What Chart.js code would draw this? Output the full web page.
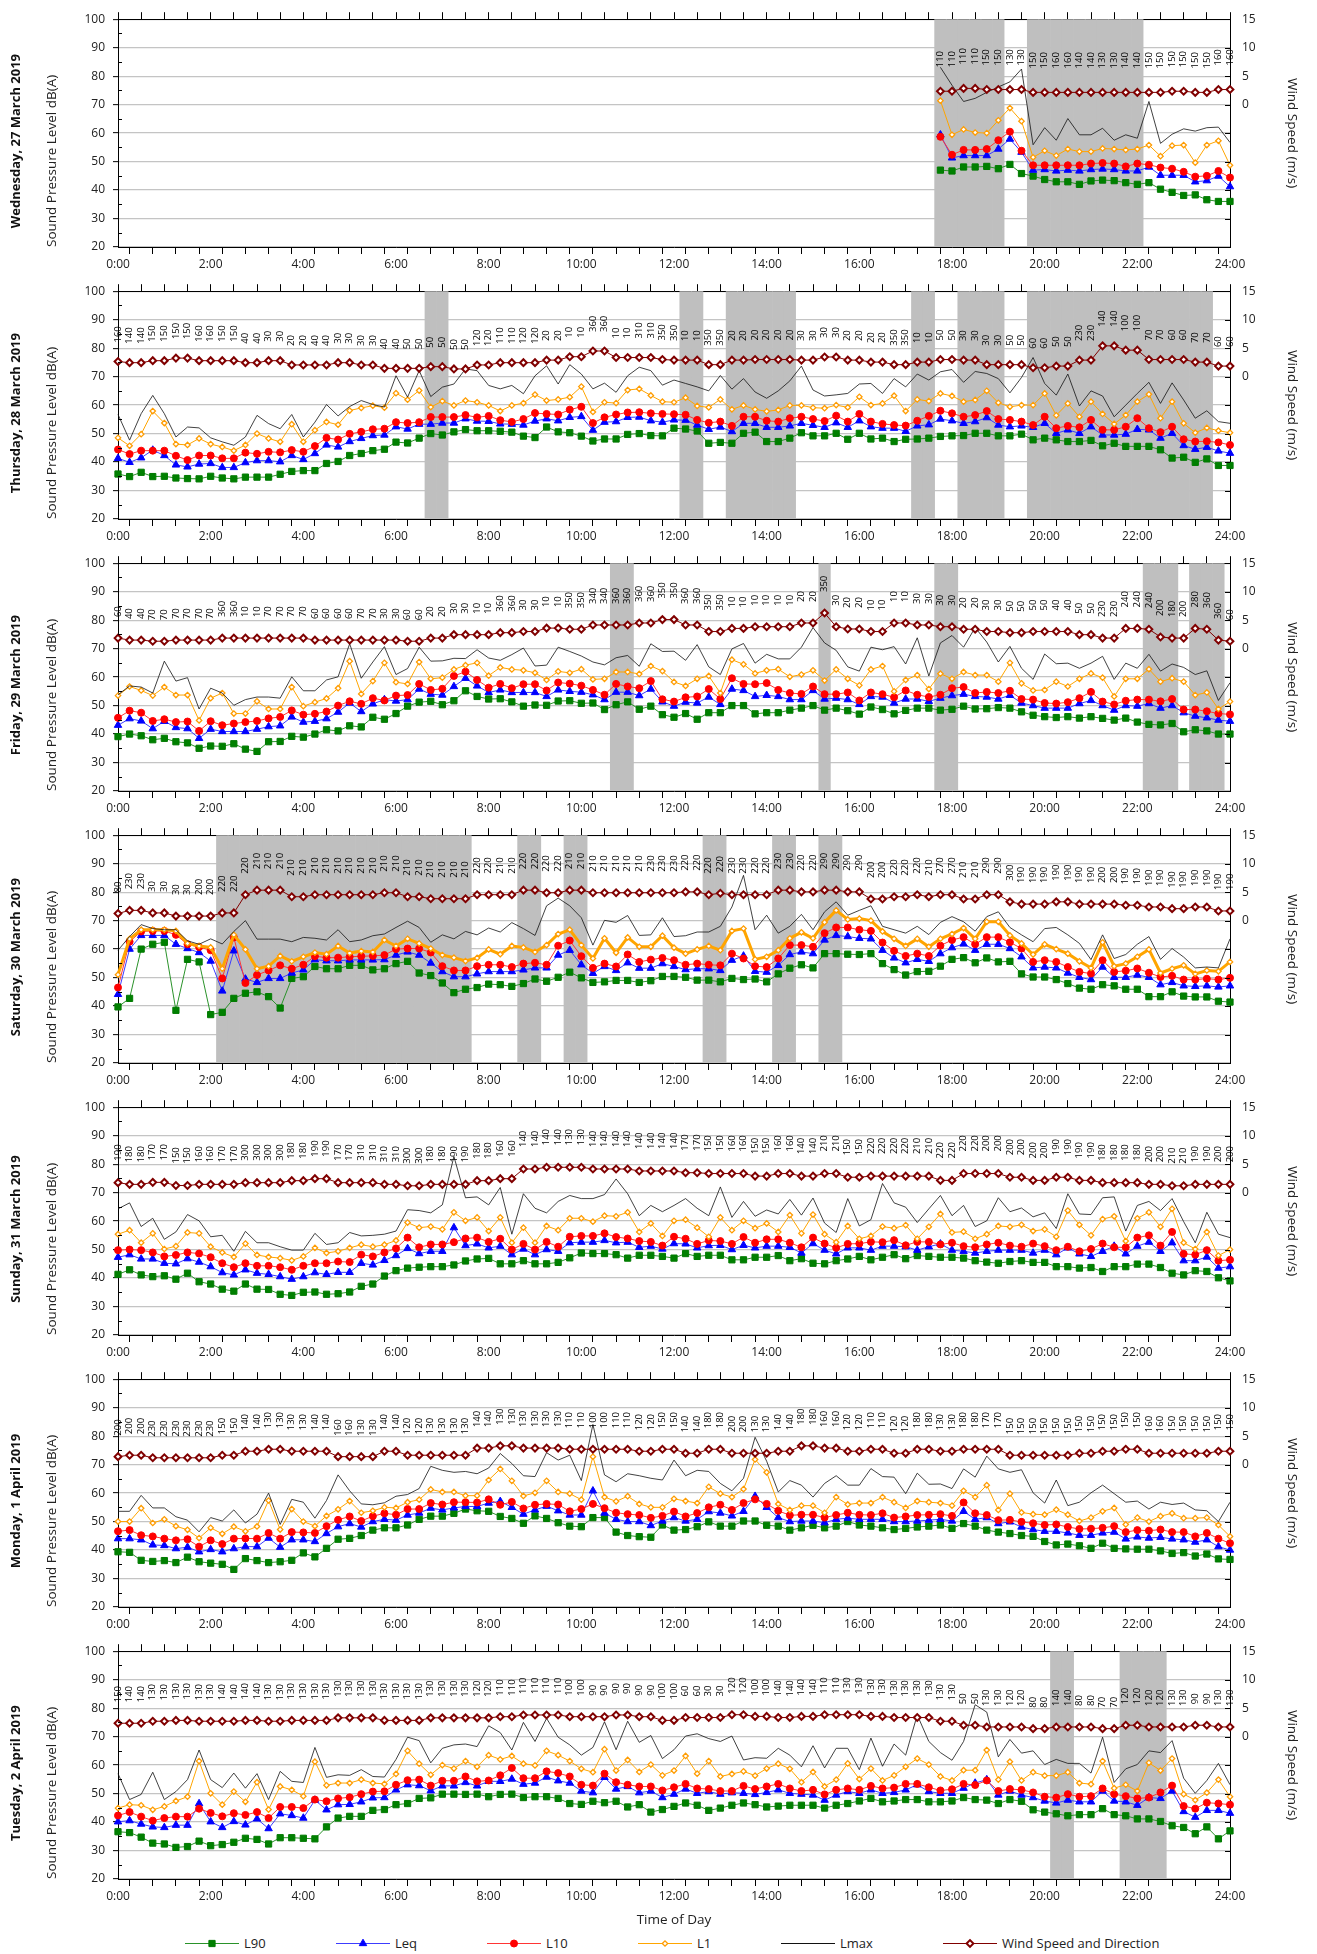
<!DOCTYPE html>
<html lang="en">
<head>
<meta charset="utf-8">
<title>Noise and wind monitoring, 27 March - 2 April 2019</title>
<script src="https://cdn.jsdelivr.net/npm/chart.js@4.4.1/dist/chart.umd.min.js"></script>
<style>
  html, body { margin: 0; padding: 0; background: #fff; }
  #page { position: relative; width: 1317px; height: 1954px; overflow: hidden; font-family: "Open Sans", "DejaVu Sans", sans-serif; }
  .panel { position: absolute; left: 0; }
  #legend { position: absolute; left: 0; top: 1932px; width: 1317px; height: 22px; }
  .legend-item { position: absolute; top: 0; height: 22px; display: flex; align-items: center; font-size: 13px; color: #222; white-space: nowrap; }
  .legend-item canvas { margin-right: 5px; }
</style>
</head>
<body>
<div id="page"><div id="legend"></div></div>
<script>
const FONT = '"Open Sans", "DejaVu Sans", sans-serif'
const blank = n => Array(n).fill(null)

// time of day in minutes, one reading every 15 minutes
const minutes = [
  0, 15, 30, 45, 60, 75, 90, 105, 120, 135, 150, 165, 180, 195, 210, 225, 240, 255, 270, 285,
  300, 315, 330, 345, 360, 375, 390, 405, 420, 435, 450, 465, 480, 495, 510, 525, 540, 555, 570, 585,
  600, 615, 630, 645, 660, 675, 690, 705, 720, 735, 750, 765, 780, 795, 810, 825, 840, 855, 870, 885,
  900, 915, 930, 945, 960, 975, 990, 1005, 1020, 1035, 1050, 1065, 1080, 1095, 1110, 1125, 1140, 1155, 1170, 1185,
  1200, 1215, 1230, 1245, 1260, 1275, 1290, 1305, 1320, 1335, 1350, 1365, 1380, 1395, 1410, 1425, 1440
]

// Wednesday 27 March 2019 (logger starts at 17:45)
const wedL90 = [...blank(71), 47, 46.7, 48.1, 48.1, 48.3, 47.5, 49, 45.8, 44.9, 43.7, 42.9, 42.9, 42, 43.2, 43.5, 43.3, 42.6, 42, 42.6, 40.3, 39.2, 38.1, 38.3, 36.6, 36, 36]
const wedLeq = [...blank(71), 59.4, 51.3, 52.1, 52.1, 52.1, 54.4, 57.9, 53.3, 47, 47.2, 46.7, 47, 46.7, 47.2, 47.4, 47.2, 46.7, 46.7, 48.1, 45.2, 45.2, 45.2, 42.9, 43.3, 44.9, 41.2]
const wedL10 = [...blank(71), 58.7, 52.4, 54.1, 54.1, 54.4, 57.5, 60.5, 53.8, 48.7, 48.7, 48.7, 48.7, 48.7, 49.3, 49.5, 49.3, 48.3, 49.3, 48.9, 47.9, 47.5, 46.4, 44.7, 45, 46.7, 44.4]
const wedL1 = [...blank(71), 71.4, 59.4, 61.3, 60.2, 60, 64.5, 68.8, 64.2, 51.5, 53.8, 52.1, 54.4, 53.5, 53.5, 54.6, 54.4, 54.1, 54.4, 55.8, 51.9, 55.6, 55.8, 49.6, 55.8, 57.3, 48.7]
const wedLmax = [...blank(71), 83.1, 76.8, 71.1, 72.2, 74.3, 76.2, 78, 82.5, 55.9, 61.9, 57.5, 65.1, 59.4, 59.4, 61.7, 57.5, 59.4, 58.2, 71.1, 56.4, 59.6, 61.5, 60.7, 61.9, 62.1, 56.7]
const wedWind = [...blank(71), 2.35, 2.35, 2.85, 2.85, 2.65, 2.65, 2.65, 2.65, 2.15, 2.15, 2.15, 2.15, 2.15, 2.15, 2.15, 2.15, 2.15, 2.15, 2.15, 2.15, 2.35, 2.35, 2.15, 2.15, 2.65, 2.65]
const wedDir = [...blank(71), 110, 110, 110, 110, 150, 150, 130, 130, 150, 150, 160, 160, 140, 140, 130, 130, 140, 140, 150, 150, 150, 150, 150, 150, 160, 160]
const wedRain = [1065, 1080, 1095, 1110, 1125, 1140, 1185, 1200, 1215, 1230, 1245, 1260, 1275, 1290, 1305, 1320]

// Thursday 28 March 2019
const thuL90 = [
  35.8, 34.9, 36.4, 34.9, 35, 34.4, 34.2, 34.1, 35, 34.4, 34.1, 34.7, 34.7, 34.7, 35.7, 36.7,
  37, 37, 39.5, 40.2, 42.3, 43, 44, 44.5, 47, 46.7, 48.4, 50, 49.5, 50.6, 51.4, 51,
  51, 50.8, 50.5, 49.1, 48.6, 52.3, 50.6, 50.3, 49.1, 47.4, 48.1, 48.1, 49.7, 50, 49.3, 49.2,
  51.9, 51.6, 50.9, 46.6, 46.9, 46.6, 50.1, 50.5, 47.2, 47.2, 48.4, 50.3, 49.2, 49.2, 50.1, 48,
  50.1, 48.1, 48.4, 47.2, 48, 48.1, 48.4, 49, 49.2, 49.3, 50.1, 50.1, 49.2, 49.2, 49.8, 47.8,
  48.4, 47.8, 47.2, 47.2, 47.6, 45.7, 46.6, 45.5, 45.5, 45.5, 44.3, 41.4, 41.7, 39.9, 41.1, 38.8, 38.8
]
const thuLeq = [
  41.3, 39.9, 41.5, 44.2, 42.3, 39, 38.3, 39.3, 39.5, 38.1, 38.1, 39.8, 40.5, 40.5, 40.1, 42.3,
  40.9, 43, 46, 45.3, 47.2, 48.3, 49.3, 49.5, 52.4, 51.6, 53.3, 53.3, 53.7, 53.7, 55.2, 54.4,
  54.3, 53.4, 53.3, 53, 54.4, 55.2, 54.5, 55.7, 56, 51.2, 54, 54.2, 55.7, 55.8, 54.5, 54,
  54.8, 54.7, 53, 51.5, 52.3, 50.7, 53.6, 53.6, 52.2, 52.2, 52.7, 53.6, 52.9, 52.2, 53.8, 52.2,
  54.5, 52.4, 51.9, 51.9, 50.8, 52.7, 53.1, 55.1, 54.5, 53.6, 54.2, 55.6, 53, 52.4, 52.7, 52.2,
  53.6, 50.1, 51.3, 50.1, 52.4, 49.5, 49.5, 49.8, 51.5, 51.3, 48.4, 50.1, 45.8, 44.5, 45.2, 43.9, 43.1
]
const thuL10 = [
  44.4, 42.8, 44, 44, 44, 42.2, 40.7, 42.3, 42.3, 41.3, 41.3, 43.3, 42.9, 43.6, 43.4, 44.2,
  43.6, 45.6, 48.5, 47.9, 49.9, 50.6, 51.5, 51.7, 54, 53.7, 54, 55.8, 55.8, 55.8, 56.5, 55.7,
  56.2, 54.7, 54.1, 55.1, 57.2, 56.9, 56.7, 58.4, 59.4, 53.7, 55.7, 56.7, 57.4, 57.5, 57.1, 56.9,
  56.8, 56.6, 54.8, 53.8, 54.2, 52.7, 55.9, 55.9, 54.5, 54.2, 55.4, 55.9, 55.1, 54.4, 56.3, 54.2,
  56.9, 54.2, 53.4, 53, 52.8, 54.5, 56.2, 58, 57.1, 55.9, 56.5, 57.9, 55.1, 54.8, 54.2, 53,
  55.9, 51.9, 52.7, 52.2, 54.8, 51.3, 51.3, 52.4, 55.4, 51.9, 50.5, 52.4, 48, 47.2, 47.3, 46.9, 46
]
const thuL1 = [
  48.5, 45.7, 49.8, 57.9, 53.7, 46.3, 46, 48.3, 46.3, 45.3, 44, 46, 50, 48.3, 47.1, 53.3,
  47.1, 51.2, 54.1, 53.1, 58.1, 59, 59.8, 59.1, 64.2, 61.9, 65.1, 59.3, 61.4, 59.9, 61.6, 61,
  59.9, 57.9, 59.9, 60.7, 63.7, 61.6, 62, 62.8, 66.5, 57.6, 61, 60.7, 65.3, 65.7, 63.4, 61.2,
  61, 62.6, 59.7, 59.2, 62, 58.5, 59.9, 58.5, 57.8, 58.3, 59.9, 59.9, 59.1, 58.9, 60, 59.2,
  62.9, 60, 60.6, 63.3, 57.9, 62, 61.4, 64.1, 63.2, 61.2, 61.8, 65, 60.8, 59.4, 60, 60,
  64.1, 56.4, 60.6, 55.9, 61.2, 56.9, 53.4, 56.5, 61.2, 63.8, 55.4, 61.2, 53.6, 50.3, 52, 51, 50.3
]
const thuLmax = [
  56.7, 47.7, 57, 63.4, 57, 48.8, 52.3, 52, 48.5, 47.1, 45.9, 48.8, 56.4, 53.5, 51.7, 56.7,
  48.8, 54, 60.2, 56.2, 59.5, 61.6, 60.2, 59.3, 70.3, 62.8, 72.1, 63, 66.3, 67.4, 72.7, 72.1,
  66.9, 65.7, 66.9, 64, 70.3, 73.8, 67.4, 74.2, 70.9, 65.7, 67.7, 64.5, 70.3, 73.3, 72.1, 67,
  68.8, 67.6, 66.4, 65, 70.4, 65.6, 69.3, 64.6, 62.4, 65, 68.5, 73.7, 65.3, 63.2, 63.6, 64.1,
  67.4, 67.6, 64.1, 69.3, 66.4, 70.9, 68.8, 71.7, 72.5, 68, 71.8, 71.1, 69.3, 64.3, 69.7, 76.7,
  67.6, 63.5, 70.9, 59.7, 65, 63.2, 55.9, 60, 64.1, 68, 60.6, 67.8, 61.8, 55.4, 58, 54.2, 53.6
]
const thuWind = [
  2.65, 2.45, 2.45, 2.8, 2.8, 3.25, 3.25, 2.8, 2.8, 2.8, 2.8, 2.45, 2.45, 2.8, 2.8, 2.05,
  2.05, 2.05, 2.05, 2.45, 2.45, 2.05, 2.05, 1.45, 1.45, 1.45, 1.45, 1.75, 1.75, 1.35, 1.35, 2.05,
  2.05, 2.45, 2.45, 2.45, 2.45, 2.9, 2.9, 3.5, 3.5, 4.5, 4.5, 3.35, 3.35, 3.35, 3.35, 3,
  2.9, 2.9, 2.9, 2.1, 2.1, 2.9, 2.9, 3, 3, 3, 3, 2.9, 2.9, 3.45, 3.45, 2.9,
  2.9, 2.55, 2.55, 2.1, 2.1, 2.55, 2.55, 3, 3, 2.9, 2.9, 2.1, 2.1, 2.1, 2.1, 1.55,
  1.55, 1.85, 1.85, 2.9, 2.9, 5.4, 5.4, 4.65, 4.65, 3, 3, 3, 3, 2.55, 2.55, 1.85, 1.85
]
const thuDir = [
  160, 140, 140, 150, 150, 150, 150, 160, 160, 150, 150, 40, 40, 30, 30, 20,
  20, 40, 40, 30, 30, 30, 30, 40, 40, 50, 50, 50, 50, 50, 50, 120,
  120, 110, 110, 120, 120, 20, 20, 10, 10, 360, 360, 10, 10, 310, 310, 350,
  350, 10, 10, 350, 350, 20, 20, 20, 20, 20, 20, 30, 30, 30, 30, 20,
  20, 20, 20, 350, 350, 10, 10, 50, 50, 30, 30, 30, 30, 50, 50, 60,
  60, 50, 50, 230, 230, 140, 140, 100, 100, 70, 70, 60, 60, 70, 70, 60, 60
]
const thuRain = [405, 420, 735, 750, 795, 810, 825, 840, 855, 870, 1035, 1050, 1095, 1110, 1125, 1140,
  1185, 1200, 1215, 1230, 1245, 1260, 1275, 1290, 1305, 1320, 1335, 1350, 1365, 1380, 1395, 1410]

// Friday 29 March 2019
const friL90 = [
  39.1, 40, 39.4, 38, 38.5, 37.3, 36.9, 35, 35.8, 35.7, 36.6, 34.7, 33.9, 37.3, 37.4, 39.2,
  38.9, 40, 41.5, 41.1, 42.9, 42.5, 45.9, 45.2, 47.2, 49.8, 51.2, 51.5, 50.3, 51.7, 55.2, 53.2,
  52.3, 52.4, 51.3, 49.8, 50.2, 50.1, 51.6, 51.7, 50.8, 50.9, 48.6, 50.3, 51.3, 48.7, 49.8, 46.8,
  45.9, 47.2, 45.2, 47.5, 47.5, 50, 50, 47.1, 47.5, 47.5, 48.4, 49.1, 50, 48.4, 49.1, 48.2,
  47, 49.5, 48.6, 47.1, 48.3, 49.1, 49.1, 48.4, 48.7, 49.8, 48.8, 48.9, 49.3, 49.1, 47.8, 46.6,
  46.1, 45.8, 46.1, 45.6, 46.1, 45.5, 44.9, 45.6, 44.2, 43.4, 43.2, 43.7, 40.8, 41.5, 41.1, 40, 40
]
const friLeq = [
  43.1, 45.4, 44.6, 41.9, 44.5, 42.3, 41.9, 38.5, 41.7, 40.9, 40.9, 40.9, 41.7, 42.6, 42.9, 46,
  44.2, 44.5, 45.4, 47.7, 50.9, 47.9, 50.6, 52.1, 51.6, 52.1, 55.8, 54, 53.7, 56.7, 59.6, 56.9,
  54.6, 55.5, 54.6, 54.6, 54.6, 53.2, 55.5, 55, 54.7, 53.8, 52.1, 54.7, 54.7, 53.5, 55.8, 51.3,
  49.8, 51.2, 50.9, 53, 50.4, 55.8, 55.3, 53.2, 53.6, 53.2, 52.1, 52.1, 55.3, 52.3, 52.6, 52.1,
  50.4, 53.2, 53, 50.9, 52.3, 52.3, 51.5, 52.6, 53.5, 54, 53.2, 53, 52.3, 53.6, 50.9, 50,
  49.1, 49.1, 49.1, 50.7, 51.8, 50, 48.4, 50, 49.8, 50.7, 49.1, 50, 47.5, 46.3, 45.7, 44.9, 44.5
]
const friL10 = [
  45.7, 48.2, 47.5, 44.6, 45.2, 44.2, 44.4, 41.1, 44.5, 43.1, 43.7, 44.2, 44.6, 45.5, 46, 48.3,
  46.8, 47.1, 47.9, 50, 51.5, 50.6, 52.6, 51.8, 53.5, 53.7, 57.6, 55.5, 55.9, 60.4, 61.9, 59,
  56.3, 57.6, 56.1, 57.5, 57.5, 55.3, 58.1, 57.7, 57, 55.5, 53.8, 57.6, 56.7, 56.1, 58.6, 52.2,
  51.4, 52.9, 53.2, 55.8, 52.3, 59.6, 57.6, 57.5, 57.9, 55.5, 54.4, 54.1, 56.7, 54, 54, 54.6,
  51.8, 54.6, 54, 52.9, 55.3, 53.8, 53, 53.8, 56.1, 56.5, 54.4, 54.8, 54.4, 55.2, 52.3, 52.1,
  50.9, 50.7, 51.2, 52.6, 54.8, 51.4, 50.4, 51.7, 52.1, 52.1, 51.5, 52.3, 48.6, 48.6, 48, 47.2, 46.9
]
const friL1 = [
  53.5, 56.7, 55.3, 53.5, 56.5, 53.7, 53.7, 44.8, 52.6, 54.4, 47.2, 47.2, 51.5, 48.8, 48.8, 56.5,
  49.8, 51.2, 52.5, 56.1, 65.6, 54.1, 58.6, 65, 58.2, 57.6, 65.3, 59.4, 59.8, 62.7, 64.2, 65,
  60.5, 63.4, 62.7, 62.4, 61.5, 59, 62, 61.5, 62.8, 59.2, 59.4, 61.8, 61.8, 61.1, 63.9, 62.1,
  58.3, 56.9, 59.4, 60.4, 54.4, 66.1, 64.5, 61.3, 62.4, 62.8, 60.1, 60.9, 62.4, 58.8, 62.7, 59.4,
  57.1, 62.7, 63.9, 55, 59, 60.7, 55.8, 61.2, 59.4, 61.8, 60.7, 60.7, 58.4, 65, 57.8, 55.3,
  55.5, 58.4, 56.7, 59.4, 61.3, 59.8, 53.2, 59.4, 59.4, 62.8, 58.4, 59.6, 58.4, 53.7, 54.6, 48.8, 51.4
]
const friLmax = [
  53.8, 56.9, 56.5, 54.4, 65.6, 58.6, 59.8, 48.8, 56.1, 54.4, 50.1, 52.1, 53, 53, 52.6, 60.1,
  55.2, 55.2, 59, 60.1, 71.7, 59.6, 65.3, 70.7, 60.9, 63, 70.5, 65.6, 65.7, 66.6, 66.5, 69.6,
  66.7, 65.9, 67.9, 70.2, 63.9, 64.2, 70.5, 69, 67.4, 65.3, 64.3, 66.8, 67.6, 63.8, 71.7, 69,
  69.1, 65.9, 71.4, 63.6, 60.9, 69.9, 71.8, 64.9, 68, 66.4, 66.4, 70.5, 77.4, 72, 69.4, 63.6,
  62.1, 70.5, 69.6, 70.7, 64.6, 73.8, 60.4, 72, 74.6, 70.5, 77.4, 72.3, 65.3, 70.8, 63.1, 59.2,
  68.1, 64.7, 64.9, 63.1, 64.9, 67.3, 59.2, 64.9, 63.1, 68, 62.1, 64.6, 63.4, 60.9, 62.2, 51.8, 58
]
const friWind = [
  1.85, 1.5, 1.5, 1.3, 1.3, 1.5, 1.5, 1.5, 1.5, 1.85, 1.85, 1.85, 1.85, 1.85, 1.85, 1.85,
  1.85, 1.5, 1.5, 1.5, 1.5, 1.5, 1.5, 1.5, 1.5, 1.3, 1.3, 1.85, 1.85, 2.45, 2.45, 2.45,
  2.45, 2.8, 2.8, 3, 3, 3.6, 3.6, 3.4, 3.4, 4.15, 4.15, 4.15, 4.15, 4.5, 4.5, 5.1,
  5.1, 4.15, 4.15, 3, 3, 3.55, 3.55, 3.85, 3.85, 3.85, 3.85, 4.5, 4.5, 6.25, 3.85, 3.45,
  3.45, 3, 3, 4.5, 4.5, 4.15, 4.15, 3.85, 3.85, 3.4, 3.4, 3, 3, 2.8, 2.8, 3,
  3, 3, 3, 2.45, 2.45, 1.85, 1.85, 3.55, 3.55, 3.4, 2.05, 1.85, 1.85, 3.55, 3.4, 1.5, 1.3
]
const friDir = [
  60, 40, 40, 70, 70, 70, 70, 70, 70, 360, 360, 10, 10, 70, 70, 70,
  70, 60, 60, 60, 60, 70, 70, 30, 30, 60, 60, 20, 20, 30, 30, 10,
  10, 360, 360, 30, 30, 10, 10, 350, 350, 340, 340, 360, 360, 360, 360, 350,
  350, 360, 360, 350, 350, 10, 10, 10, 10, 10, 10, 20, 20, 350, 30, 20,
  20, 10, 10, 10, 10, 30, 30, 30, 30, 20, 20, 30, 30, 50, 50, 50,
  50, 40, 40, 50, 50, 230, 230, 240, 240, 240, 200, 180, 200, 280, 360, 360, 60
]
const friRain = [645, 660, 915, 1065, 1080, 1335, 1350, 1365, 1395, 1410, 1425]

// Saturday 30 March 2019
const satL90 = [
  39.7, 42.7, 60, 61.7, 62.4, 38.5, 56.4, 55.5, 37, 37.8, 42.7, 44.5, 45, 43.3, 39.3, 49.7,
  50.3, 53.9, 53.1, 53.1, 54.3, 54.3, 52.7, 53.1, 54.9, 55.7, 51.6, 50.7, 48.1, 44.7, 45.9, 46.5,
  47.7, 47.5, 46.9, 47.9, 49.5, 48.7, 50.1, 51.9, 49.9, 48.3, 48.5, 49, 49, 48.3, 48.9, 50.4,
  50.4, 50.1, 49.1, 49.1, 48.5, 49.7, 49.3, 49.5, 48.5, 51.3, 53.3, 54.5, 53.4, 58.4, 58.4, 58.2,
  58.1, 58.4, 54.9, 52.8, 50.9, 52.1, 52.2, 54, 56.4, 57, 55.2, 56.9, 55.5, 55.7, 51.3, 50.2,
  50.2, 49.3, 47.9, 46.3, 45.9, 47.5, 47.1, 45.9, 45.9, 43.3, 43.3, 45, 43.5, 43.2, 43.2, 41.7, 41.4
]
const satLeq = [
  44.1, 60, 64.8, 64.8, 64.8, 61.7, 60.2, 58.8, 55.8, 45.3, 59.4, 49.5, 48.3, 49.7, 49.7, 51.6,
  52.7, 56.3, 55.9, 55.9, 56.2, 56.2, 56.2, 56.3, 57.9, 59, 57.9, 55.1, 52.1, 50.3, 50.3, 51.3,
  52.1, 52.1, 52.1, 52.7, 53.4, 53.4, 57.9, 59.6, 54.5, 51.5, 53.9, 52.5, 55.2, 53.3, 53.3, 54.9,
  53.9, 52.8, 53.1, 53.1, 52.5, 56.1, 57.6, 52.2, 51.9, 54.3, 58.1, 59, 58.4, 63.2, 64.8, 64.4,
  63.8, 63.6, 59.6, 56.9, 55.2, 56.4, 55.7, 58.4, 60.5, 61.8, 59.6, 61.7, 61.7, 60.2, 57.3, 53.4,
  53.7, 53.4, 51.6, 50.1, 49.3, 53.7, 50.1, 50.1, 50.9, 50.1, 47.5, 48.3, 47.1, 46.9, 47.1, 46.7, 47.1
]
const satL10 = [
  46.5, 62.6, 66.2, 66.4, 66.4, 65, 61.7, 60.7, 59.6, 49.7, 64.1, 48.1, 50.9, 52.5, 54.3, 53.1,
  54.5, 57.5, 57, 57, 57.3, 57.5, 57.6, 57.9, 60, 60.2, 60.2, 58.8, 54, 52.5, 52.5, 54,
  54.5, 54.5, 53.7, 54.9, 55.2, 54.5, 61.2, 63, 57.5, 53.4, 54.9, 53.9, 58.1, 55.5, 56.3, 56.9,
  56.1, 54.5, 54.9, 54.5, 54.3, 58.4, 56.7, 54, 53.7, 56.7, 61.4, 61.4, 60.8, 65.6, 67.6, 67.6,
  66.8, 66.4, 62.3, 59.4, 57.6, 58.4, 57.6, 61.2, 63.2, 64.2, 61.7, 64.2, 64.2, 62.4, 60.2, 55.5,
  56.1, 55.5, 53.7, 52, 51.4, 56.1, 52, 52.4, 53.2, 51.7, 50.2, 50.6, 49.3, 49.3, 49.6, 49.3, 49.9
]
const satL1 = [
  51, 63.6, 66.8, 66.8, 66.8, 66.4, 62, 61.1, 60.6, 53.1, 65, 59.9, 53.1, 54, 57.6, 55.7,
  57.3, 58.8, 58.2, 61.1, 58.6, 59.3, 59, 63.2, 61.1, 63.6, 62, 60.2, 57.9, 57, 55.8, 56.9,
  59.9, 58.2, 61.1, 60.6, 59, 61.4, 65.3, 66.8, 61.4, 56.7, 63.8, 58.7, 64.1, 60.8, 60.8, 64.7,
  60.5, 58.4, 59.9, 61.1, 59.6, 66.4, 67.2, 56.4, 57.3, 59.6, 63.8, 65.9, 63.8, 69.4, 73.6, 70.4,
  70.7, 70, 66.2, 63.6, 61.1, 63.6, 60.8, 63.6, 65.3, 67.4, 63.6, 69.6, 69.6, 64.8, 62, 58.1,
  61.7, 60, 58.4, 55.7, 53.4, 62.4, 54, 54.9, 57.3, 59.9, 51.6, 53.1, 54.3, 51.3, 52.5, 52.2, 55.5
]
const satLmax = [
  59.6, 64.4, 68.6, 67.2, 66.8, 66.8, 62.9, 61.7, 63.6, 61.8, 66.2, 70, 63.5, 63.5, 63.5, 62.6,
  64.1, 63.8, 63.2, 66.8, 62.6, 63.2, 64.7, 65.3, 67.6, 69.8, 67.6, 62.4, 65, 63.6, 66.2, 65,
  67.4, 66, 69.3, 67.2, 64.8, 75.2, 77.9, 75.2, 71, 61.4, 70.1, 69.4, 71.8, 64.8, 65, 71,
  64.4, 64.7, 66, 66, 68, 74.8, 85.9, 66.8, 71.9, 65.6, 68, 72.2, 66.8, 73.1, 76.6, 71.9,
  73.6, 75.2, 68, 66.8, 65.6, 68, 65.1, 69.4, 71.4, 69.6, 66.3, 71.4, 73.1, 67.6, 65, 62.6,
  67.2, 67.6, 65, 62, 56.3, 65, 56.7, 58.1, 61.7, 64.4, 56.4, 60.2, 57.2, 53.4, 53.7, 53.4, 63.6
]
const satWind = [
  1.25, 1.8, 1.8, 1.35, 1.35, 0.8, 0.8, 0.8, 0.8, 1.35, 1.35, 4.55, 5.35, 5.35, 5.35, 4.2,
  4.2, 4.55, 4.55, 4.55, 4.55, 4.55, 4.55, 4.9, 4.9, 4.2, 4.2, 3.85, 3.85, 3.85, 3.85, 4.55,
  4.55, 4.55, 4.55, 5.35, 5.35, 4.9, 4.9, 5.35, 5.35, 4.9, 4.9, 4.9, 4.9, 4.9, 4.9, 4.9,
  4.9, 5.05, 5.05, 4.55, 4.8, 4.55, 4.55, 4.55, 4.55, 5.35, 5.35, 5.05, 5.05, 5.35, 5.35, 5.05,
  5.05, 3.8, 3.8, 4.2, 4.2, 4.55, 4.2, 4.55, 4.55, 3.8, 3.8, 4.55, 4.55, 3.3, 2.9, 2.9,
  2.9, 3.3, 3.3, 2.9, 2.9, 2.9, 2.9, 2.7, 2.7, 2.4, 2.4, 2.1, 2.1, 2.4, 2.4, 1.7, 1.7
]
const satDir = [
  80, 230, 230, 30, 30, 30, 30, 200, 200, 220, 220, 220, 210, 210, 210, 210,
  210, 210, 210, 210, 210, 210, 210, 210, 210, 210, 210, 210, 210, 210, 210, 220,
  220, 210, 210, 220, 220, 220, 220, 210, 210, 210, 210, 210, 210, 210, 230, 230,
  230, 220, 220, 220, 220, 230, 230, 220, 220, 230, 230, 220, 220, 290, 290, 290,
  290, 200, 200, 220, 220, 220, 210, 270, 270, 210, 210, 290, 290, 300, 190, 190,
  190, 190, 190, 190, 190, 200, 200, 190, 190, 190, 190, 190, 190, 190, 190, 190, 190
]
const satRain = [135, 150, 165, 180, 195, 210, 225, 240, 255, 270, 285, 300, 315, 330, 345, 360, 375, 390,
  405, 420, 435, 450, 525, 540, 585, 600, 765, 780, 855, 870, 915, 930]

// Sunday 31 March 2019
const sunL90 = [
  41.3, 42.9, 41.1, 40.5, 40.8, 39.6, 41.7, 38.7, 37.9, 36.1, 35.4, 37.9, 36.1, 36, 34.3, 33.9,
  35, 35.1, 34.3, 34.5, 35.1, 37.1, 37.9, 40.7, 42.6, 43.5, 43.8, 44, 44, 44.6, 46, 46.7,
  46.9, 45, 45, 46.1, 45, 45, 45.5, 47.1, 48.8, 48.6, 48.6, 48.2, 47, 48, 48, 47.6,
  47, 48.6, 47.6, 48, 48, 46.4, 46.4, 47.3, 47.3, 47.9, 46.1, 46.8, 45.2, 45, 46.1, 46.7,
  47.6, 46.4, 47.3, 48.2, 46.8, 47.9, 47.6, 47.3, 47.3, 47, 46.1, 45.6, 45.2, 45.8, 46.1, 45.5,
  45.5, 44, 44, 43.5, 43.7, 42.3, 44, 44, 44.9, 44.9, 43.7, 41.7, 41.1, 42.6, 42.3, 40.1, 39
]
const sunLeq = [
  47.3, 48.2, 46.7, 46.7, 45.2, 45, 46.8, 45.6, 44, 41.9, 41.1, 42.9, 41.7, 41.3, 40.5, 39.6,
  40.5, 41.9, 41.3, 42, 42, 45.2, 44.6, 46.2, 47.9, 50.4, 48.6, 49.4, 49.4, 57.7, 51.4, 52,
  50.6, 51.2, 48.2, 50.2, 48.2, 50, 49.4, 52.4, 52.6, 52.6, 53.2, 52.4, 52.6, 50.8, 51.2, 50.2,
  52.1, 52, 50.6, 51.4, 51.5, 50, 51.5, 50.6, 51.2, 51.2, 50.8, 48.8, 52.1, 49.8, 48.5, 50.6,
  50.6, 49.8, 51.2, 51.2, 51, 49.8, 51, 52, 49.8, 49.4, 48.8, 49.4, 49.8, 49.8, 49.8, 48.8,
  49.8, 48.2, 50.6, 48.5, 47.6, 49.4, 51.2, 48.5, 51.2, 52.6, 49.4, 52.4, 46.1, 46.1, 47.4, 43.5, 44
]
const sunL10 = [
  49.8, 50, 49.8, 49, 47.6, 48.1, 49, 48.6, 47.3, 45.2, 43.8, 45.2, 44.3, 44.3, 43.8, 42.9,
  44.3, 45.2, 45.2, 45.8, 45.6, 48.2, 47.6, 49, 50.4, 54.2, 50.8, 51.8, 51.8, 52.6, 53.9, 54.2,
  52.7, 53.8, 50, 52, 50, 52.7, 51, 54.5, 54.8, 54.8, 55.7, 54.4, 53.9, 53, 52.7, 51.4,
  54.5, 53.8, 52, 53.2, 53, 52, 54.4, 52.4, 53.6, 53.6, 52.4, 50.8, 54.2, 52.1, 50.6, 52,
  52.1, 52.7, 52.6, 53.3, 51.5, 52.7, 52.7, 51.8, 52.4, 51.2, 50.8, 51.8, 52.4, 51.4, 51, 52.1,
  51.2, 49.8, 51, 49.4, 50.2, 52.1, 50.8, 50.8, 54.2, 55, 51.4, 56.2, 48.5, 48.2, 49.8, 46.1, 46.4
]
const sunL1 = [
  55.4, 56.8, 52.4, 55.7, 50.2, 51.2, 56, 55.7, 51, 49, 47.4, 52.1, 48.1, 47.4, 47, 46.2,
  47.6, 50.6, 48.8, 49.4, 50.6, 51.7, 51, 51.7, 53.2, 59.5, 57.7, 58.1, 57.1, 63.1, 60.1, 61.3,
  56.5, 61.3, 52.4, 57.7, 52.4, 58.3, 56.8, 61, 61, 59.8, 61.9, 61.7, 63.1, 56.2, 59.2, 54.8,
  60.1, 60.5, 57.7, 54.5, 61.3, 56.8, 60.1, 57.5, 59.2, 56.2, 62.1, 55.7, 62.3, 55.4, 52.6, 58.3,
  53.8, 54.8, 58.1, 57.5, 58.6, 53.8, 58, 62.5, 56, 56.3, 53.8, 55.4, 58.3, 58, 58.7, 56.5,
  57.1, 54.5, 63.7, 58.7, 55, 60.7, 61.7, 53, 61, 63.1, 58, 64.3, 52.4, 50.2, 56.2, 47.9, 50
]
const sunLmax = [
  64.3, 66.4, 58.1, 61, 53.6, 56.2, 62.3, 60.1, 54.5, 55, 49.4, 56.4, 52.4, 52.4, 51, 49.8,
  49.8, 55.7, 51.8, 52.4, 56, 54.8, 55, 55.4, 56.5, 64, 63.7, 62.9, 65.7, 82.7, 68.2, 68.5,
  65.7, 71.8, 55.4, 69.6, 64.5, 62.9, 66.9, 69, 67.9, 67.9, 69.3, 74.8, 69.6, 61.9, 65.5, 63.3,
  65.5, 67.9, 64.5, 61.9, 72, 61.3, 66.9, 61.7, 63.9, 62.5, 67.6, 62.1, 68.1, 59.3, 56, 67.9,
  58.3, 60.5, 73.2, 66.4, 64.9, 59.5, 64.3, 69, 61.9, 65.5, 58.1, 60.1, 68.2, 63.3, 64.6, 61.5,
  62.9, 57.4, 69.6, 62.5, 62.3, 68.2, 68.5, 56.5, 65.5, 66.9, 63.7, 67.9, 59.8, 52.4, 63.1, 55.4, 54.2
]
const sunWind = [
  1.75, 1.45, 1.45, 1.8, 1.8, 1.25, 1.25, 1.45, 1.45, 1.45, 1.45, 1.75, 1.75, 1.75, 1.75, 2.1,
  2.1, 2.45, 2.45, 1.75, 1.75, 1.75, 1.75, 1.45, 1.45, 1.2, 1.2, 1.45, 1.45, 1.45, 1.45, 2.1,
  2.1, 2.45, 2.45, 4.15, 4.15, 4.45, 4.45, 4.45, 4.45, 4.15, 4.15, 4.15, 4.15, 3.8, 3.8, 3.8,
  3.8, 3.5, 3.5, 3.35, 3.35, 3.35, 3.35, 2.9, 2.9, 3.35, 3.35, 2.9, 2.9, 3.35, 3.35, 2.7,
  2.7, 2.9, 2.9, 2.9, 2.9, 2.9, 2.9, 2.15, 2.15, 3.35, 3.35, 3.35, 3.35, 2.7, 2.7, 2.15,
  2.15, 2.7, 2.7, 2.15, 2.15, 1.75, 1.75, 1.75, 1.75, 1.45, 1.45, 1.2, 1.2, 1.45, 1.45, 1.45, 1.45
]
const sunDir = [
  190, 180, 180, 170, 170, 150, 150, 160, 160, 170, 170, 300, 300, 300, 300, 180,
  180, 190, 190, 170, 170, 310, 310, 310, 310, 300, 300, 180, 180, 190, 190, 180,
  180, 160, 160, 140, 140, 140, 140, 130, 130, 140, 140, 140, 140, 140, 140, 140,
  140, 170, 170, 150, 150, 160, 160, 150, 150, 160, 160, 140, 140, 210, 210, 150,
  150, 220, 220, 220, 220, 210, 210, 220, 220, 220, 220, 200, 200, 200, 200, 200,
  200, 190, 190, 190, 190, 180, 180, 180, 180, 200, 200, 210, 210, 190, 190, 200, 200
]
const sunRain = []

// Monday 1 April 2019
const monL90 = [
  39.4, 39.2, 36.4, 36, 36.3, 35.6, 37.5, 35.9, 35.4, 35, 33.2, 37, 36.3, 35.6, 35.9, 36.4,
  39, 37.6, 40.6, 43.8, 44.1, 45.1, 47, 47.8, 47.8, 48.8, 50.8, 51.9, 51.9, 52.9, 54.4, 53.8,
  53.6, 51.8, 51.1, 49.4, 52, 51.1, 49.6, 48.4, 48.2, 51.4, 51.4, 46.3, 45.1, 44.7, 44.5, 48.8,
  47, 47.2, 48.2, 49.9, 48.4, 48.4, 50.2, 50.2, 48.7, 48.4, 47, 47.8, 48.7, 47.8, 48.4, 50,
  48.8, 48.4, 47.8, 47.2, 47.6, 48.1, 48.4, 48.8, 47.6, 49.3, 48.4, 47, 46.3, 45.8, 45.1, 44.8,
  43, 41.8, 42.1, 41.5, 40.6, 42.4, 40.6, 40.4, 40.3, 40.3, 39.7, 38.8, 39.1, 37.9, 38.6, 36.9, 36.7
]
const monLeq = [
  44, 44, 43.6, 41.8, 41.6, 40.5, 41, 39.4, 40.2, 39.4, 40.5, 41.2, 41.2, 44.2, 41, 43.6,
  43.6, 43, 45.8, 48.2, 49.3, 48.1, 50, 50.8, 50.5, 52.3, 53, 54.7, 54.1, 54.8, 55.3, 55.3,
  56.5, 57.1, 55, 52.6, 54.1, 55.4, 53.8, 52.3, 52.3, 60.8, 53, 50.8, 50, 50, 48.6, 50.2,
  51.4, 50.2, 50.8, 53.5, 53, 52, 53.6, 58.9, 55, 51.4, 50, 50.2, 50.2, 49.6, 50.8, 51.2,
  50.8, 50.8, 50.8, 50, 50, 50.2, 50.5, 50.8, 50.2, 53.6, 50.8, 51.4, 49.3, 49.9, 48.1, 47.2,
  46.6, 46.6, 46, 45.2, 45.2, 46, 46.3, 43.9, 44.6, 44.2, 44.5, 43.9, 43.6, 42.8, 43.6, 41.2, 40
]
const monL10 = [
  46.6, 47, 45.2, 44.8, 44, 43.4, 43.8, 41.2, 43.4, 42.1, 44, 44.1, 44, 46, 44, 46.3,
  46.2, 46, 48.4, 50.6, 51.8, 50.2, 51.9, 52.9, 52.4, 54.4, 54.4, 56.5, 56, 56.8, 56.8, 56.7,
  57.8, 55.9, 56.9, 54.6, 55.9, 56.2, 56, 53.6, 54.4, 56.2, 54.7, 53.1, 52.6, 52.3, 51.3, 52,
  53.5, 51.8, 53, 55, 55.9, 54.1, 56.5, 57.8, 56.2, 53.8, 52.2, 52.4, 52.4, 51.4, 52.3, 53.1,
  52.4, 52.3, 52.9, 51.4, 51.8, 52.3, 52.4, 52.6, 52, 56.7, 52.9, 52.3, 50.5, 50.6, 49.9, 49.4,
  48.8, 49, 48.1, 47.4, 47.5, 47.8, 48.4, 46.3, 47, 46.8, 47.2, 46.3, 46.3, 44.8, 46, 44, 42.4
]
const monL1 = [
  50, 50, 54.7, 49.5, 50.8, 48.4, 47.1, 44.2, 47.8, 45.7, 48.2, 46.6, 48.3, 57.4, 47.2, 54.4,
  50, 48.4, 52, 54.3, 57.2, 53.1, 53.8, 55, 54.8, 56.8, 57.7, 61.3, 60.4, 60.4, 59.1, 59.1,
  64.6, 68.5, 64.3, 59, 60.1, 64.3, 60.4, 59.8, 57.7, 72.8, 58.6, 57.1, 58.9, 56.2, 55, 55,
  58, 57.2, 56.5, 62.2, 59.8, 58.6, 61.4, 71.8, 67.3, 56.2, 54.1, 55.6, 55.6, 53.1, 58.6, 56,
  56.5, 56.5, 58.6, 56.8, 54.8, 57.2, 56.8, 56.5, 55.6, 60.8, 58.6, 62.8, 54.1, 59.8, 53.2, 52.6,
  52.4, 54.2, 52.4, 50.2, 51.4, 53.6, 54.8, 49, 51.4, 50, 51.9, 52.9, 51.2, 51.2, 51.4, 48.8, 44.8
]
const monLmax = [
  53.6, 53.6, 59.2, 54.8, 54.8, 51.7, 50.5, 46.4, 51.4, 50.2, 54.1, 49.5, 52.6, 60, 49, 57.8,
  56.8, 51.2, 57.4, 66.4, 60.8, 56.2, 55.9, 56.6, 58.9, 59.5, 61.6, 69.4, 68, 67.3, 67.6, 66.8,
  68.8, 73.9, 70.4, 66.1, 65.8, 74.2, 71.6, 73.3, 64.4, 84.1, 66.4, 64, 66.8, 66.1, 65.2, 64.6,
  71.6, 66.1, 68, 67.6, 63.4, 60.8, 65.2, 79.6, 71.2, 60.4, 64.4, 62.8, 58.6, 63.4, 66.1, 62.8,
  62.8, 68.6, 65.8, 65.6, 59.8, 67, 63.1, 63.2, 61.6, 68.5, 65.6, 73, 68.5, 67.3, 68.2, 60.1,
  56.5, 64.6, 55.6, 56.8, 60.1, 62.8, 59.8, 56.8, 57.2, 54.4, 56.8, 56, 56.5, 54.1, 53.8, 50, 56.8
]
const monWind = [
  1.4, 1.65, 1.65, 1.2, 1.2, 1.2, 1.2, 1.2, 1.2, 1.65, 1.65, 2.35, 2.35, 2.7, 2.7, 2.35,
  2.35, 2.35, 2.35, 1.4, 1.4, 1.4, 1.4, 2.35, 2.35, 1.65, 1.65, 1.65, 1.65, 1.65, 1.65, 2.9,
  2.9, 3.3, 3.3, 2.9, 2.9, 2.9, 2.9, 2.7, 2.7, 2.7, 2.7, 2.7, 2.7, 2.35, 2.35, 2.7,
  2.7, 2, 2, 2.7, 2.7, 2, 2, 2, 2, 2.35, 2.35, 3.3, 3.3, 2.9, 2.9, 2.35,
  2.35, 2.7, 2.7, 2, 2, 2.7, 2.7, 2.35, 2.35, 2.7, 2.7, 2.7, 2.7, 1.65, 1.65, 1.65,
  1.65, 1.65, 1.65, 2, 2, 2.35, 2.35, 2.7, 2.7, 2, 2, 2, 2, 2, 2, 2.35, 2.35
]
const monDir = [
  200, 200, 200, 230, 230, 230, 230, 230, 230, 150, 150, 140, 140, 130, 130, 130,
  130, 140, 140, 160, 160, 130, 130, 140, 140, 120, 120, 130, 130, 130, 130, 140,
  140, 130, 130, 130, 130, 130, 130, 110, 110, 100, 100, 110, 110, 120, 120, 150,
  150, 140, 140, 180, 180, 200, 200, 130, 130, 140, 140, 180, 180, 160, 160, 120,
  120, 110, 110, 120, 120, 180, 180, 130, 130, 180, 180, 170, 170, 150, 150, 150,
  150, 150, 150, 150, 150, 150, 150, 150, 150, 160, 160, 150, 150, 150, 150, 150, 150
]
const monRain = []

// Tuesday 2 April 2019
const tueL90 = [
  36.6, 36.3, 34.7, 32.6, 32.3, 31.1, 31.4, 33.3, 31.7, 32.1, 32.9, 34.3, 33.9, 32.3, 34.5, 34.5,
  34.3, 34.1, 38.3, 41.4, 42, 42, 44.1, 44.4, 46.1, 46.5, 48.3, 48.5, 49.8, 49.8, 49.7, 49.8,
  48.9, 49.7, 49.8, 48.6, 48.9, 48.9, 48.3, 46.5, 46.2, 47.3, 46.8, 47.3, 45.3, 46.1, 43.5, 44.4,
  45.5, 46.7, 45.9, 44.1, 44.9, 45.9, 46.7, 46.1, 45.3, 45.6, 45.9, 45.9, 45.9, 44.9, 45.9, 46.5,
  47.4, 48.3, 47.1, 47.4, 47.9, 47.9, 47.1, 47.1, 47.4, 48.6, 47.9, 47.7, 46.5, 47.9, 47.3, 44.3,
  43.5, 42.9, 42.2, 42.6, 42.6, 44.7, 42.6, 42.2, 41.1, 41.1, 40.2, 38.7, 38.1, 35.9, 38.3, 34.1, 36.9
]
const tueLeq = [
  40.1, 40.5, 39.3, 38.3, 38.1, 38.9, 38.9, 46.5, 40.1, 38.1, 40.2, 39, 41.1, 37.7, 42.9, 42.3,
  41.4, 47.7, 44.3, 46.1, 46.2, 47.1, 48.5, 48.6, 51.3, 53.1, 52.8, 51, 52.7, 52.7, 53.9, 52.7,
  54.3, 54.3, 55.1, 53.3, 53.7, 55.8, 54.5, 53.7, 50.9, 50.3, 55.7, 51.6, 52.5, 50.3, 50.9, 48.6,
  49.8, 51.6, 50.1, 50.7, 49.8, 50.3, 50.1, 49.7, 50.4, 51.3, 50.1, 49.8, 49.5, 47.7, 49.5, 50.7,
  50.1, 51.3, 50.1, 50.4, 51.3, 53.1, 50.7, 50.1, 50.1, 51.9, 53.7, 54.9, 49.5, 50.9, 49.5, 48.6,
  47.4, 46.7, 47.7, 47.1, 47.1, 50.9, 47.4, 47.1, 45.9, 48.6, 48.3, 50.9, 43.7, 41.7, 44.1, 44.1, 43.1
]
const tueL10 = [
  42.3, 43.5, 41.9, 40.5, 41.4, 41.9, 41.9, 44.7, 43.2, 42, 43.1, 42.5, 43.5, 41.4, 45.3, 45.3,
  44.9, 47.9, 47.3, 48.3, 48.7, 49.8, 50.7, 50.8, 53.1, 54.7, 54.9, 52.8, 54.5, 54.5, 56, 54.3,
  54.6, 56.4, 59, 55.4, 55.4, 57.8, 57.2, 56, 53.1, 52.8, 57, 54, 53.1, 52.5, 52.5, 51.1,
  52.2, 53.4, 51.8, 51.6, 50.9, 50.9, 52.7, 51.6, 52.5, 53.4, 51.8, 50.9, 51.3, 49.7, 51.3, 51.8,
  51.3, 52.7, 51.8, 52.1, 53.4, 53.4, 52.2, 51.1, 51.5, 53.4, 53, 54.6, 50.9, 51.6, 51.3, 50.4,
  48.9, 48.6, 49.8, 48.9, 49.1, 51.8, 49.8, 49.1, 48.3, 48.6, 50.4, 52.8, 45.6, 44.7, 46.8, 46.5, 46.1
]
const tueL1 = [
  44.9, 46.1, 45.9, 44.3, 45.5, 47.4, 48.9, 61.4, 50.1, 46.1, 50.7, 47.1, 54, 44.4, 52.5, 51.3,
  49.1, 61.2, 52.9, 53.7, 53.7, 54.9, 53.7, 53.4, 56.9, 65, 60.5, 56.6, 60, 58.8, 61.4, 59.4,
  63.5, 62, 63.2, 60.5, 59.9, 65, 63.5, 61.4, 58.7, 57.5, 65.6, 58.1, 61.8, 57.6, 60.2, 56.4,
  58.1, 63.2, 57, 61.4, 56, 56.9, 57.8, 56.3, 58.8, 60.5, 58.7, 54, 57.6, 52.5, 54.9, 60.6,
  55.1, 58.8, 54.6, 56.4, 59.4, 62.3, 60.2, 56, 54.6, 58.2, 58.2, 65.3, 54.9, 61.2, 54.6, 57.5,
  56.3, 56.3, 57.5, 53.7, 53.3, 61.4, 51.9, 53.1, 50.9, 60.8, 58.1, 62.3, 49.8, 47.7, 50.3, 54.9, 48.9
]
const tueLmax = [
  57, 47.9, 49.7, 57.5, 47.9, 50.7, 54.9, 65.3, 54.9, 52.1, 57.2, 51.9, 57, 47.9, 57.8, 54.3,
  53.9, 66.2, 55.7, 56.6, 56.4, 58.4, 56, 55.8, 62, 69.8, 68.6, 60.8, 65.9, 67.1, 67.4, 66.5,
  73.8, 71.4, 65.3, 75, 68.3, 76.4, 69.8, 67.1, 63.5, 66.2, 75.2, 65.4, 75.4, 68, 70.4, 62.3,
  65.4, 70.2, 71, 69.3, 68.3, 70.2, 61.8, 62.6, 62.4, 65.9, 63.5, 59.4, 66.8, 59, 65.9, 65.9,
  58.4, 69.5, 59.6, 67.4, 63.5, 77.6, 68.3, 64.4, 61.7, 68.3, 81.2, 78.6, 62.9, 69, 64.2, 65,
  60.2, 62, 60.6, 60.6, 57.2, 69.8, 53.9, 58.7, 60.2, 65, 64.4, 68.6, 55.4, 50.1, 54.6, 60.6, 53.1
]
const tueWind = [
  2.35, 2.35, 2.35, 2.7, 2.7, 2.85, 2.85, 2.7, 2.7, 2.7, 2.7, 2.85, 2.85, 2.7, 2.7, 2.85,
  2.85, 2.85, 2.85, 3.3, 3.3, 3.3, 3.3, 2.85, 2.85, 2.85, 2.85, 3.3, 3.3, 3.3, 3.3, 3.3,
  3.3, 3.5, 3.5, 3.8, 3.8, 3.8, 3.8, 3.5, 3.5, 3.5, 3.5, 3.8, 3.8, 3.5, 3.5, 2.85,
  2.85, 3.35, 3.35, 3.35, 3.35, 3.85, 3.85, 3.55, 3.55, 3.35, 3.35, 3.55, 3.55, 3.85, 3.85, 3.85,
  3.85, 3.55, 3.55, 3.35, 3.35, 3.35, 3.35, 2.7, 2.7, 2, 2, 1.7, 1.7, 1.7, 1.7, 1.4,
  1.4, 1.7, 1.7, 1.7, 1.7, 1.4, 1.4, 2, 2, 1.7, 1.7, 1.7, 1.7, 2, 2, 1.7, 1.7
]
const tueDir = [
  150, 140, 140, 130, 130, 130, 130, 130, 130, 140, 140, 140, 140, 130, 130, 130,
  130, 130, 130, 130, 130, 130, 130, 130, 130, 130, 130, 130, 130, 130, 130, 120,
  120, 110, 110, 110, 110, 110, 110, 100, 100, 90, 90, 90, 90, 90, 90, 100,
  100, 60, 60, 30, 30, 120, 120, 100, 100, 140, 140, 140, 140, 110, 110, 130,
  130, 130, 130, 130, 130, 130, 130, 130, 130, 50, 50, 130, 130, 120, 120, 80,
  80, 140, 140, 80, 80, 70, 70, 120, 120, 120, 120, 130, 130, 90, 90, 130, 130
]
const tueRain = [1215, 1230, 1305, 1320, 1335, 1350]

const days = [
  { date: 'Wednesday, 27 March 2019', l90: wedL90, leq: wedLeq, l10: wedL10, l1: wedL1, lmax: wedLmax, wind: wedWind, dir: wedDir, rain: wedRain },
  { date: 'Thursday, 28 March 2019', l90: thuL90, leq: thuLeq, l10: thuL10, l1: thuL1, lmax: thuLmax, wind: thuWind, dir: thuDir, rain: thuRain },
  { date: 'Friday, 29 March 2019', l90: friL90, leq: friLeq, l10: friL10, l1: friL1, lmax: friLmax, wind: friWind, dir: friDir, rain: friRain },
  { date: 'Saturday, 30 March 2019', l90: satL90, leq: satLeq, l10: satL10, l1: satL1, lmax: satLmax, wind: satWind, dir: satDir, rain: satRain },
  { date: 'Sunday, 31 March 2019', l90: sunL90, leq: sunLeq, l10: sunL10, l1: sunL1, lmax: sunLmax, wind: sunWind, dir: sunDir, rain: sunRain },
  { date: 'Monday, 1 April 2019', l90: monL90, leq: monLeq, l10: monL10, l1: monL1, lmax: monLmax, wind: monWind, dir: monDir, rain: monRain },
  { date: 'Tuesday, 2 April 2019', l90: tueL90, leq: tueLeq, l10: tueL10, l1: tueL1, lmax: tueLmax, wind: tueWind, dir: tueDir, rain: tueRain }
]

// per-panel look: gap between wind marker and its direction label, L1 line width
const panelLook = [
  { gap: 24 }, { gap: 19 }, { gap: 21 }, { gap: 21, l1Width: 3 }, { gap: 22 }, { gap: 21 }, { gap: 21 }
]

const SERIES = {
  l90: { label: 'L90', line: '#2a922a', stroke: '#007a00', fill: '#008000', style: 'rect', radius: 4.4, pointBorder: 1, width: 1, order: 5 },
  leq: { label: 'Leq', line: '#3c3cff', stroke: '#0000ff', fill: '#0000ff', style: 'triangle', radius: 4.3, pointBorder: 1, width: 1, order: 4 },
  l10: { label: 'L10', line: '#ff3535', stroke: '#ff0000', fill: '#ff0000', style: 'circle', radius: 3.5, pointBorder: 1, width: 1, order: 3 },
  l1: { label: 'L1', line: '#ffa500', stroke: '#ff9c00', fill: '#ffffff', style: 'rectRot', radius: 2.7, pointBorder: 1.3, width: 1, order: 2 },
  lmax: { label: 'Lmax', line: '#111111', stroke: '#111111', fill: '#111111', style: false, radius: 0, pointBorder: 0, width: 0.8, order: 1 },
  wind: { label: 'Wind Speed and Direction', line: '#800000', stroke: '#800000', fill: '#ffffff', style: 'rectRot', radius: 3.4, pointBorder: 2, width: 1, order: 0 }
}

const Y_MIN = 20
const Y_MAX = 100
const PANEL_H = 272
const LAST_H = 300
const TEXT = '#222'

Chart.defaults.font.family = FONT
Chart.defaults.color = TEXT

const panelDecor = {
  id: 'panelDecor',
  afterDatasetsDraw(chart, args, opts) {
    const ctx = chart.ctx
    const idx = chart.data.datasets.findIndex(d => d.label === SERIES.wind.label)
    const meta = chart.getDatasetMeta(idx)
    ctx.save()
    ctx.font = `9.5px ${FONT}`
    ctx.fillStyle = '#000'
    ctx.textAlign = 'left'
    ctx.textBaseline = 'middle'
    meta.data.forEach((pt, i) => {
      const dir = opts.directions[i]
      if (dir == null || pt.skip || isNaN(pt.y)) return
      ctx.save()
      ctx.translate(pt.x, pt.y - opts.gap)
      ctx.rotate(-Math.PI / 2)
      ctx.fillText(String(dir), 0, 0)
      ctx.restore()
    })
    ctx.restore()
  },
  afterDraw(chart, args, opts) {
    const { ctx, chartArea: area, scales } = chart
    ctx.save()
    ctx.font = `bold 13px ${FONT}`
    ctx.fillStyle = '#111'
    ctx.textAlign = 'center'
    ctx.textBaseline = 'middle'
    ctx.translate(16, (area.top + area.bottom) / 2 + 8)
    ctx.rotate(-Math.PI / 2)
    ctx.fillText(opts.date, 0, 0)
    ctx.restore()

    // small inward ticks: half steps on the dB axis, every step on the wind axis
    ctx.save()
    ctx.strokeStyle = '#000'
    ctx.lineWidth = 1
    ctx.beginPath()
    scales.y.ticks.forEach(t => {
      const half = t.value + 5
      if (half >= Y_MAX) return
      const y = Math.round(scales.y.getPixelForValue(half)) + 0.5
      ctx.moveTo(area.left, y)
      ctx.lineTo(area.left + 4, y)
    })
    scales.y2.ticks.forEach(t => {
      const y = Math.round(scales.y2.getPixelForValue(t.value)) + 0.5
      ctx.moveTo(area.right - 5, y)
      ctx.lineTo(area.right, y)
    })
    ctx.stroke()
    ctx.restore()
  }
}

function series(key, values, width) {
  const s = SERIES[key]
  return {
    type: 'line',
    label: s.label,
    data: minutes.map((t, i) => ({ x: t, y: values[i] })),
    yAxisID: key === 'wind' ? 'y2' : 'y',
    borderColor: s.line,
    borderWidth: width || s.width,
    pointStyle: s.style,
    pointRadius: s.radius,
    pointBackgroundColor: s.fill,
    pointBorderColor: s.stroke,
    pointBorderWidth: s.pointBorder,
    tension: 0,
    clip: false,
    order: s.order
  }
}

function rainBars(rain) {
  return {
    type: 'bar',
    label: 'Rain',
    data: minutes.map(t => ({ x: t, y: rain.includes(t) ? [Y_MIN, Y_MAX] : null })),
    yAxisID: 'y',
    backgroundColor: '#bfbfbf',
    borderWidth: 0,
    barPercentage: 1,
    categoryPercentage: 1,
    order: 10
  }
}

const page = document.getElementById('page')

days.forEach((day, i) => {
  ['l90', 'leq', 'l10', 'l1', 'lmax', 'wind', 'dir'].forEach(key => {
    if (day[key].length !== minutes.length) throw new Error(`${day.date} ${key}: ${day[key].length} values`)
  })

  const look = panelLook[i]
  const isLast = i === days.length - 1
  const height = isLast ? LAST_H : PANEL_H
  const holder = document.createElement('div')
  holder.className = 'panel'
  holder.style.top = `${i * PANEL_H}px`
  const canvas = document.createElement('canvas')
  canvas.width = 1317
  canvas.height = height
  holder.appendChild(canvas)
  page.appendChild(holder)

  new Chart(canvas, {
    type: 'line',
    data: {
      datasets: [
        rainBars(day.rain),
        series('l90', day.l90),
        series('leq', day.leq),
        series('l10', day.l10),
        series('l1', day.l1, look.l1Width),
        series('lmax', day.lmax),
        series('wind', day.wind)
      ]
    },
    plugins: [panelDecor],
    options: {
      responsive: false,
      animation: false,
      events: [],
      layout: { padding: 0 },
      plugins: {
        legend: { display: false },
        tooltip: { enabled: false },
        panelDecor: { date: day.date, directions: day.dir, gap: look.gap }
      },
      scales: {
        x: {
          type: 'linear',
          position: 'bottom',
          min: 0,
          max: 1440,
          offset: false,
          ticks: {
            stepSize: 30,
            maxTicksLimit: 100,
            autoSkip: false,
            maxRotation: 0,
            padding: 3,
            font: { size: 12 },
            callback: v => (v % 120 === 0 ? `${v / 60}:00` : '')
          },
          grid: { drawOnChartArea: false, drawTicks: true, tickLength: 7, color: '#000', lineWidth: 1 },
          border: { display: true, color: '#000', width: 1 },
          title: { display: isLast, text: 'Time of Day', font: { size: 13.5 }, padding: { top: 0, bottom: 4 } },
          afterFit: scale => { scale.height = height - 17 - 230 }
        },
        x2: {
          type: 'linear',
          position: 'top',
          min: 0,
          max: 1440,
          offset: false,
          ticks: { display: false, stepSize: 30, maxTicksLimit: 100, autoSkip: false },
          grid: { drawOnChartArea: false, drawTicks: true, tickLength: 7, color: '#000', lineWidth: 1 },
          border: { display: true, color: '#000', width: 1 },
          afterFit: scale => { scale.height = 17 }
        },
        y: {
          position: 'left',
          min: Y_MIN,
          max: Y_MAX,
          ticks: { stepSize: 10, padding: 8, font: { size: 12 } },
          grid: { color: '#c4c4c4', lineWidth: 1.3, tickColor: '#000', tickLength: 5, tickWidth: 1 },
          border: { display: true, color: '#000', width: 1 },
          title: {
            display: true,
            text: 'Sound Pressure Level dB(A)',
            align: 'start',
            font: { size: 13.5 },
            padding: { top: 44, bottom: 0 }
          },
          afterFit: scale => { scale.width = 118 }
        },
        y2: {
          position: 'right',
          min: -25,
          max: 15,
          ticks: { stepSize: 5, padding: 12, font: { size: 12 }, callback: v => (v >= 0 ? v : '') },
          grid: { drawOnChartArea: false, drawTicks: false },
          border: { display: true, color: '#000', width: 1 },
          title: { display: true, text: 'Wind Speed (m/s)', font: { size: 13.5 }, padding: { top: 17, bottom: 0 } },
          afterFit: scale => { scale.width = 87 }
        }
      }
    }
  })
})

// legend row under the last panel
const legend = document.getElementById('legend')
const legendLeft = [185, 336, 487, 638, 781, 943]
;['l90', 'leq', 'l10', 'l1', 'lmax', 'wind'].forEach((key, k) => {
  const s = SERIES[key]
  const item = document.createElement('div')
  item.className = 'legend-item'
  item.style.left = `${legendLeft[k]}px`
  const c = document.createElement('canvas')
  c.width = 54
  c.height = 14
  const g = c.getContext('2d')
  g.strokeStyle = s.line
  g.lineWidth = 1
  g.beginPath()
  g.moveTo(0, 7.5)
  g.lineTo(54, 7.5)
  g.stroke()
  if (s.style && Chart.helpers && Chart.helpers.drawPoint) {
    g.fillStyle = s.fill
    g.strokeStyle = s.stroke
    g.lineWidth = s.pointBorder
    Chart.helpers.drawPoint(g, { pointStyle: s.style, radius: s.radius, borderWidth: s.pointBorder, rotation: 0 }, 27, 7.5)
  }
  item.appendChild(c)
  item.appendChild(document.createTextNode(s.label))
  legend.appendChild(item)
})
</script>
</body>
</html>
